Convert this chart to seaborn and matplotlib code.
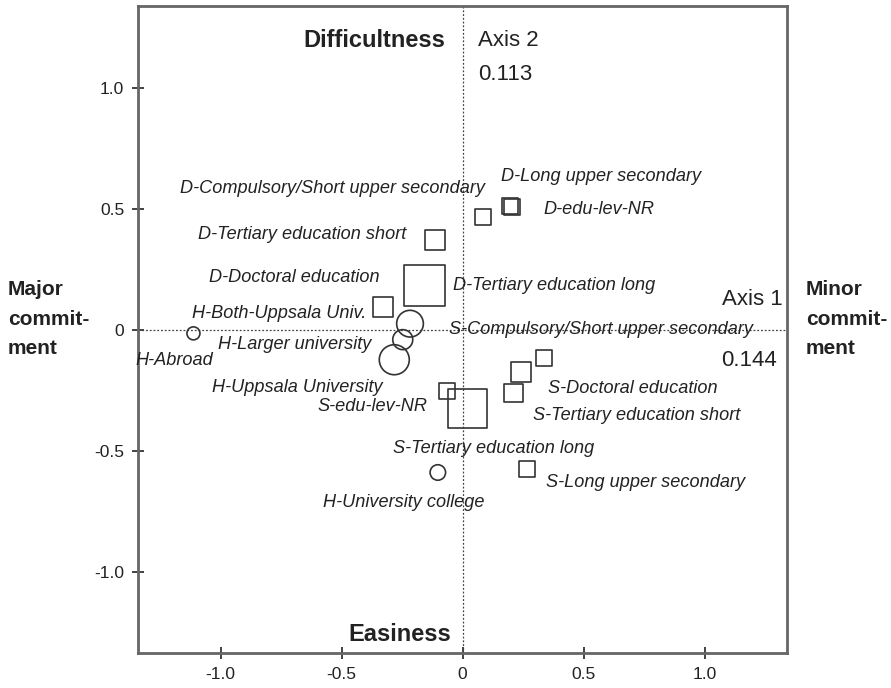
import pandas as pd
import matplotlib.pyplot as plt
import seaborn as sns

# category points: coordinates on the two axes and point weight (marker size, px)
labels = ["D-Compulsory/Short upper secondary", "D-Long upper secondary", "D-edu-lev-NR",
          "D-Tertiary education short", "D-Tertiary education long", "D-Doctoral education",
          "H-Both-Uppsala Univ.", "H-Larger university", "H-Uppsala University",
          "H-Abroad", "H-University college",
          "S-Compulsory/Short upper secondary", "S-Doctoral education", "S-Tertiary education short",
          "S-edu-lev-NR", "S-Tertiary education long", "S-Long upper secondary"]
axis1 = [0.084, 0.197, 0.205, -0.112, -0.156, -0.329,
         -0.217, -0.247, -0.282, -1.112, -0.102,
         0.336, 0.240, 0.211, -0.063, 0.019, 0.268]
axis2 = [0.466, 0.513, 0.507, 0.371, 0.185, 0.096,
         0.026, -0.040, -0.123, -0.014, -0.589,
         -0.117, -0.175, -0.260, -0.253, -0.326, -0.576]
weight = [15.7, 16, 16, 20, 41, 20,
          26.7, 20, 30, 13, 15.5,
          15.7, 20, 18.5, 15.7, 39, 16]

# where each label sits (data units)
label_x = [-1.167, 0.159, 0.333, -1.093, -0.039, -1.048,
           -1.118, -1.010, -1.035, -1.031, -0.576,
           -0.056, 0.353, 0.291, -0.601, -0.287, 0.345]
label_y = [0.583, 0.636, 0.496, 0.393, 0.182, 0.215,
           0.070, -0.062, -0.236, -0.128, -0.715,
           0.0, -0.240, -0.355, -0.318, -0.488, -0.632]

df = pd.DataFrame({"label": labels, "x": axis1, "y": axis2, "w": weight})
df["group"] = df["label"].str[0]
df["s"] = (df["w"] * 0.72) ** 2

sns.set_theme(style="white")
plt.rcParams["font.family"] = ["Liberation Sans", "DejaVu Sans"]

fig = plt.figure(figsize=(8.91, 6.88), dpi=100)
ax = fig.add_axes([0.1549, 0.0509, 0.7284, 0.9404])

ax.axhline(0, color="#444444", lw=0.9, ls=(0, (1.5, 1.5)), zorder=1)
ax.axvline(0, color="#444444", lw=0.9, ls=(0, (1.5, 1.5)), zorder=1)

for grp, mk in [("D", "s"), ("S", "s"), ("H", "o")]:
    sub = df[df["group"] == grp]
    sns.scatterplot(data=sub, x="x", y="y", marker=mk, s=sub["s"].tolist(),
                    facecolor="none", edgecolor="#333333", linewidth=1.2, ax=ax, zorder=3)

for i, lab in enumerate(labels):
    ha = "right" if lab == "H-Abroad" else "left"
    ax.text(label_x[i], label_y[i], lab, ha=ha, va="center", fontsize=13.1,
            style="italic", color="#222222", zorder=4)

ax.text(1.072, 0.124, "Axis 1", fontsize=16, ha="left", va="center", color="#222222")
ax.text(1.068, -0.128, "0.144", fontsize=16, ha="left", va="center", color="#222222")
ax.text(0.064, 1.198, "Axis 2", fontsize=16, ha="left", va="center", color="#222222")
ax.text(0.064, 1.054, "0.113", fontsize=16, ha="left", va="center", color="#222222")
ax.text(-0.072, 1.198, "Difficultness", fontsize=17, fontweight="bold", ha="right", va="center", color="#222222")
ax.text(-0.258, -1.26, "Easiness", fontsize=17, fontweight="bold", ha="center", va="center", color="#222222")

fig.text(8 / 891, 1 - 319 / 688, "Major\ncommit-\nment", fontsize=15, fontweight="bold",
         ha="left", va="center", linespacing=1.7, color="#222222")
fig.text(806 / 891, 1 - 319 / 688, "Minor\ncommit-\nment", fontsize=15, fontweight="bold",
         ha="left", va="center", linespacing=1.7, color="#222222")

ax.set_xlim(-1.341, 1.341)
ax.set_ylim(-1.335, 1.339)
ticks = [-1.0, -0.5, 0, 0.5, 1.0]
tick_labels = ["-1.0", "-0.5", "0", "0.5", "1.0"]
ax.set_xticks(ticks)
ax.set_xticklabels(tick_labels)
ax.set_yticks(ticks)
ax.set_yticklabels(tick_labels)
ax.tick_params(direction="inout", length=8, width=1.2, color="#222222",
               labelsize=12.5, labelcolor="#222222", bottom=True, left=True, pad=6)
ax.set_xlabel("")
ax.set_ylabel("")
for sp in ax.spines.values():
    sp.set_color("#666666")
    sp.set_linewidth(2)

plt.savefig("out.png", dpi=100)
